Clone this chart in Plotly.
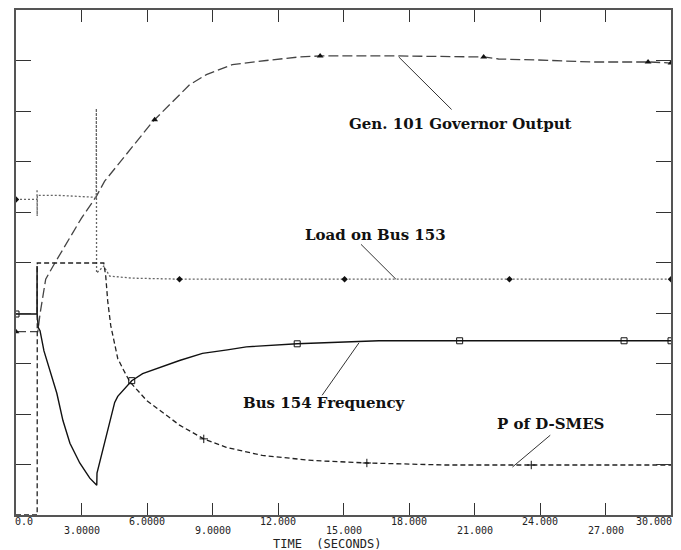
import numpy as np
import plotly.graph_objects as go

# ---------------- data (time in seconds, values in plot units 0..10) ----------------
gov_t = [0, 1.0, 1.10, 1.36, 1.78, 3.0, 3.68, 4.06, 6.26, 7.95, 8.72, 9.91, 11.46,
         12.97, 13.93, 16.03, 17.53, 21.42, 22.1, 23.93, 26.35, 29.04, 30]
gov_v = [3.63, 3.63, 3.98, 4.67, 4.99, 5.88, 6.31, 6.61, 7.79, 8.52, 8.72, 8.92, 9.00,
         9.07, 9.09, 9.09, 9.09, 9.07, 9.03, 9.01, 8.97, 8.97, 8.95]

load_t = [0, 0.96, 0.965, 0.97, 0.975, 1.92, 3.01, 3.675, 3.68, 3.69, 4.02, 4.29,
          5.34, 7.49, 30]
load_v = [6.25, 6.25, 6.45, 5.92, 6.33, 6.33, 6.31, 6.29, 8.05, 4.79, 4.93, 4.73,
          4.69, 4.67, 4.67]

freq_t = [0, 0.96, 0.965, 0.97, 1.02, 1.10, 1.28, 1.55, 1.87, 2.15, 2.47, 2.92, 3.38,
          3.70, 3.71, 4.52, 4.66, 5.30, 5.80, 7.49, 8.54, 9.68, 10.55, 12.88, 14.47,
          16.62, 30]
freq_v = [3.98, 3.98, 4.93, 3.98, 3.71, 3.65, 3.25, 2.86, 2.41, 1.87, 1.42, 1.03, 0.73,
          0.59, 0.83, 2.23, 2.35, 2.66, 2.80, 3.06, 3.20, 3.27, 3.33, 3.39, 3.41,
          3.45, 3.45]

p_t = [0, 0.97, 0.975, 3.68, 4.02, 4.11, 4.20, 4.34, 4.45, 4.66, 4.89, 5.21, 5.98,
       7.49, 8.63, 9.63, 11.28, 13.56, 16.07, 19.68, 30]
p_v = [0, 0, 4.99, 4.99, 4.99, 4.73, 4.24, 3.75, 3.50, 3.10, 2.90, 2.64, 2.27,
       1.78, 1.50, 1.34, 1.18, 1.08, 1.03, 0.99, 0.99]

gov_mark_t = [0, 6.35, 13.93, 21.42, 28.95, 30]
load_mark_t = [0, 7.49, 15.05, 22.6, 30]
freq_mark_t = [0, 5.30, 12.88, 20.32, 27.85, 30]
p_mark_t = [8.6, 16.07, 23.6]

x_ticks = [0, 3, 6, 9, 12, 15, 18, 21, 24, 27, 30]
x_tick_labels = ["0.0", "3.0000", "6.0000", "9.0000", "12.000", "15.000",
                 "18.000", "21.000", "24.000", "27.000", "30.000"]
y_ticks = list(range(0, 11))

# labels: text, text position (t, v), leader line from (t, v) to (t, v)
labels = [
    ("Gen. 101 Governor Output", 20.37, 7.75, (17.53, 9.07), (19.95, 8.03)),
    ("Load on Bus 153", 16.48, 5.54, (15.8, 5.36), (17.4, 4.67)),
    ("Bus 154 Frequency", 14.11, 2.21, (15.71, 3.41), (14.02, 2.37)),
    ("P of D-SMES", 24.47, 1.81, (24.47, 1.58), (22.74, 0.95)),
]

fig = go.Figure()

fig.add_trace(go.Scatter(x=gov_t, y=gov_v, mode="lines",
                         line=dict(color="#444", width=1.3, dash="10px,4px")))
fig.add_trace(go.Scatter(x=load_t, y=load_v, mode="lines",
                         line=dict(color="#666", width=1.3, dash="2px,2px")))
fig.add_trace(go.Scatter(x=freq_t, y=freq_v, mode="lines",
                         line=dict(color="#111", width=1.4)))
fig.add_trace(go.Scatter(x=p_t, y=p_v, mode="lines",
                         line=dict(color="#222", width=1.3, dash="5px,3px")))

fig.add_trace(go.Scatter(x=gov_mark_t, y=np.interp(gov_mark_t, gov_t, gov_v), mode="markers",
                         marker=dict(symbol="triangle-up", size=6, color="#111")))
fig.add_trace(go.Scatter(x=load_mark_t, y=np.interp(load_mark_t, load_t, load_v), mode="markers",
                         marker=dict(symbol="diamond", size=5, color="#111")))
fig.add_trace(go.Scatter(x=freq_mark_t, y=np.interp(freq_mark_t, freq_t, freq_v), mode="markers",
                         marker=dict(symbol="square-open", size=6, color="#111",
                                     line=dict(width=1, color="#111"))))
fig.add_trace(go.Scatter(x=p_mark_t, y=np.interp(p_mark_t, p_t, p_v), mode="markers",
                         marker=dict(symbol="cross-thin", size=6,
                                     line=dict(width=1, color="#111"))))

for text, tx, ty, (x0, y0), (x1, y1) in labels:
    fig.add_shape(type="line", x0=x0, y0=y0, x1=x1, y1=y1, xref="x", yref="y",
                  line=dict(color="#333", width=1))
    fig.add_annotation(x=tx, y=ty, xref="x", yref="y", text="<b>%s</b>" % text,
                       showarrow=False,
                       font=dict(family="DejaVu Serif", size=15, color="#111"))

for i, (tv, tl) in enumerate(zip(x_ticks, x_tick_labels)):
    anchor, xs = "center", 0
    if i == 0:
        anchor, xs = "left", -3
    elif i == len(x_ticks) - 1:
        anchor, xs = "right", 3
    fig.add_annotation(x=tv, y=0, xref="x", yref="paper", text=tl, showarrow=False,
                       xanchor=anchor, yanchor="middle", xshift=xs,
                       yshift=-6 if i % 2 == 0 else -15,
                       font=dict(family="DejaVu Sans Mono", size=10, color="#222"))

fig.add_annotation(x=0.475, y=0, xref="paper", yref="paper", text="TIME  (SECONDS)",
                   showarrow=False, xanchor="center", yanchor="middle", yshift=-29,
                   font=dict(family="DejaVu Sans Mono", size=12, color="#222"))

fig.update_layout(
    width=681, height=550,
    margin=dict(l=16, r=8, t=8, b=35),
    paper_bgcolor="white", plot_bgcolor="white",
    showlegend=False,
    xaxis=dict(range=[0, 30], tickvals=x_ticks, showticklabels=False,
               ticks="inside", ticklen=12, tickcolor="#333", tickwidth=1,
               showline=True, linecolor="#555", linewidth=1.5, mirror="ticks",
               showgrid=False, zeroline=False),
    yaxis=dict(range=[0, 10], tickvals=y_ticks, showticklabels=False,
               ticks="inside", ticklen=15, tickcolor="#333", tickwidth=1,
               showline=True, linecolor="#555", linewidth=1.5, mirror="ticks",
               showgrid=False, zeroline=False),
)

fig.write_html("out.html")
